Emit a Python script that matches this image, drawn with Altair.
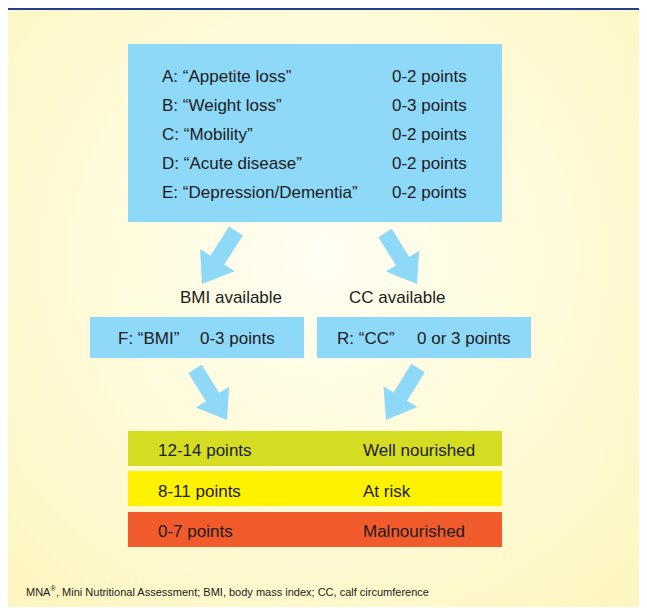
import altair as alt
import pandas as pd
import numpy as np

FONT = "Liberation Sans"
TXT = "#1c1c1c"
BLUE = "#8ed8f8"

# ---- content -------------------------------------------------------------
item_labels = ["A: \u201cAppetite loss\u201d", "B: \u201cWeight loss\u201d", "C: \u201cMobility\u201d",
               "D: \u201cAcute disease\u201d", "E: \u201cDepression/Dementia\u201d"]
item_points = ["0-2 points", "0-3 points", "0-2 points", "0-2 points", "0-2 points"]
branch_titles = ["BMI available", "CC available"]
branch_labels = ["F: \u201cBMI\u201d", "R: \u201cCC\u201d"]
branch_points = ["0-3 points", "0 or 3 points"]
score_ranges = ["12-14 points", "8-11 points", "0-7 points"]
score_status = ["Well nourished", "At risk", "Malnourished"]
score_colors = ["#d5dd23", "#fff200", "#f15a2b"]
footnote_parts = ["MNA", "\u00ae", ", Mini Nutritional Assessment; BMI, body mass index; CC, calf circumference"]

# ---- layout (reference pixel coordinates) -------------------------------
item_y = [82, 111, 140, 169, 198]
item_x, item_pts_x = 162, 392
branch_title_x = [180, 349]
branch_title_y = 303
branch_label_x = [118, 337]
branch_pts_x = [200, 417]
branch_text_y = 344
score_y = [456, 497, 537]
score_x, status_x = 158, 363

box_x1 = [128, 90, 317, 128, 128, 128]
box_x2 = [502, 304, 531, 502, 502, 502]
box_y1 = [44, 317, 317, 431, 471, 512]
box_y2 = [222, 358, 358, 466, 506, 547]
box_fill = [BLUE, BLUE, BLUE] + score_colors

arrow_tail_x = [236, 385, 195, 418]
arrow_tail_y = [231, 233, 369, 368]
arrow_tip_x = [202, 417, 227, 386]
arrow_tip_y = [284, 284, 420, 420]

X0, X1, Y0, Y1 = 8, 639, 8, 607

xs = alt.Scale(domain=[X0, X1], nice=False, zero=False)
ys = alt.Scale(domain=[Y0, Y1], nice=False, zero=False, reverse=True)

# background panel
bg = pd.DataFrame({"x": [X0], "x2": [X1], "y": [Y0], "y2": [Y1]})
background = alt.Chart(bg).mark_rect(
    color=alt.Gradient(
        gradient="radial",
        stops=[alt.GradientStop(color="#fffef3", offset=0),
               alt.GradientStop(color="#fffbdc", offset=0.45),
               alt.GradientStop(color="#fef6c0", offset=1)],
        x1=0.5, y1=0.42, r1=0, x2=0.5, y2=0.42, r2=0.72,
    )
).encode(
    x=alt.X("x:Q", scale=xs, axis=None), x2="x2:Q",
    y=alt.Y("y:Q", scale=ys, axis=None), y2="y2:Q",
)

band = alt.Chart(pd.DataFrame({"x": [X0], "x2": [X1], "y": [Y0], "y2": [10]})).mark_rect(
    color="#223f8e"
).encode(
    x=alt.X("x:Q", scale=xs, axis=None), x2="x2:Q",
    y=alt.Y("y:Q", scale=ys, axis=None), y2="y2:Q",
)

boxes_df = pd.DataFrame({"x": box_x1, "x2": box_x2, "y": box_y1, "y2": box_y2, "fill": box_fill})
boxes = alt.Chart(boxes_df).mark_rect().encode(
    x=alt.X("x:Q", scale=xs, axis=None), x2="x2:Q",
    y=alt.Y("y:Q", scale=ys, axis=None), y2="y2:Q",
    color=alt.Color("fill:N", scale=None),
)

# arrows as custom symbol (pointing down in local coords)
ARROW = "M-0.26,-1L0.26,-1L0.26,0.1L0.65,0.1L0,1L-0.65,0.1L-0.26,0.1Z"
tx, ty = np.array(arrow_tail_x, float), np.array(arrow_tail_y, float)
px, py = np.array(arrow_tip_x, float), np.array(arrow_tip_y, float)
dx, dy = px - tx, py - ty
arrows_df = pd.DataFrame({
    "x": (tx + px) / 2, "y": (ty + py) / 2,
    "angle": np.mod(np.degrees(np.arctan2(-dx, dy)), 360),
    "size": (np.hypot(dx, dy)) ** 2,
})
arrows = alt.Chart(arrows_df).mark_point(
    shape=ARROW, filled=True, opacity=1, strokeWidth=0, color=BLUE
).encode(
    x=alt.X("x:Q", scale=xs, axis=None),
    y=alt.Y("y:Q", scale=ys, axis=None),
    angle=alt.Angle("angle:Q", scale=None),
    size=alt.Size("size:Q", scale=None),
)

texts_df = pd.DataFrame({
    "x": [item_x] * 5 + [item_pts_x] * 5 + branch_title_x + branch_label_x + branch_pts_x
         + [score_x] * 3 + [status_x] * 3,
    "y": item_y + item_y + [branch_title_y] * 2 + [branch_text_y] * 4 + score_y + score_y,
    "t": item_labels + item_points + branch_titles + branch_labels + branch_points
         + score_ranges + score_status,
})
texts = alt.Chart(texts_df).mark_text(
    align="left", baseline="alphabetic", font=FONT, fontSize=17, color=TXT
).encode(
    x=alt.X("x:Q", scale=xs, axis=None),
    y=alt.Y("y:Q", scale=ys, axis=None),
    text="t:N",
)

foot_df = pd.DataFrame({"x": [26, 50.5, 56], "y": [596, 591, 596], "t": footnote_parts,
                        "s": [11, 7, 11]})
foot = alt.Chart(foot_df).mark_text(
    align="left", baseline="alphabetic", font=FONT, color=TXT
).encode(
    x=alt.X("x:Q", scale=xs, axis=None),
    y=alt.Y("y:Q", scale=ys, axis=None),
    text="t:N",
    size=alt.Size("s:Q", scale=None),
)

chart = alt.layer(background, band, boxes, arrows, texts, foot).properties(
    width=X1 - X0, height=Y1 - Y0, padding=0, autosize="none", background="#fef7c4"
).configure_view(stroke=None)

chart.save("out.html", embed_options={"renderer": "svg", "actions": False})
